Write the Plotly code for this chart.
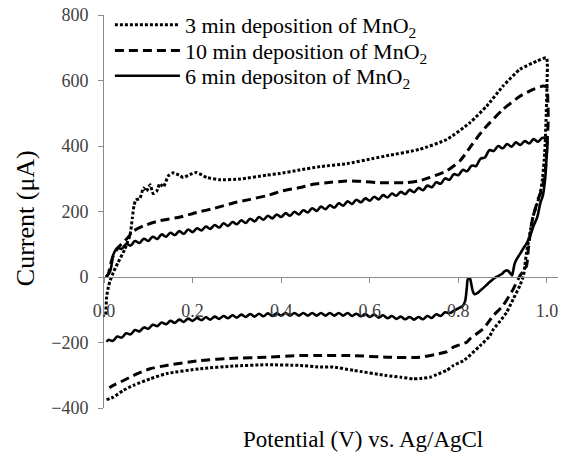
import plotly.graph_objects as go

# ---------------- data ----------------
# 3 min deposition (dotted)
dot3_x = [0.004, 0.006, 0.010, 0.014, 0.021, 0.032, 0.047, 0.059, 0.064, 0.068, 0.072, 0.081, 0.089,
          0.096, 0.104, 0.111, 0.119, 0.126, 0.134, 0.145, 0.156, 0.172, 0.179, 0.194, 0.209, 0.232,
          0.262, 0.307, 0.367, 0.397, 0.442, 0.488, 0.548, 0.608, 0.638, 0.713, 0.774, 0.826, 0.864,
          0.901, 0.939, 0.977, 0.999,
          1.000, 0.998, 0.995, 0.990, 0.984, 0.977, 0.969, 0.962, 0.954, 0.950, 0.947, 0.939, 0.924,
          0.909, 0.894, 0.879, 0.871, 0.849, 0.819, 0.811, 0.789, 0.774, 0.751, 0.736, 0.713, 0.698,
          0.670, 0.638, 0.563, 0.518, 0.488, 0.442, 0.367, 0.292, 0.217, 0.141, 0.104, 0.066, 0.044,
          0.021, 0.005]
dot3_y = [-115, -60, -30, -10, 14, 45, 85, 130, 180, 220, 235, 240, 272,
          262, 282, 255, 262, 285, 275, 308, 318, 309, 304, 313, 319, 304,
          297, 299, 311, 316, 327, 337, 346, 362, 370, 390, 420, 471, 522,
          583, 634, 659, 669,
          583, 480, 380, 300, 250, 220, 187, 136, 75, 34, 4, -26, -67,
          -108, -135, -160, -180, -210, -248, -256, -270, -285, -298, -306, -310, -311,
          -306, -301, -285, -275, -275, -270, -268, -272, -280, -295, -311, -331, -346,
          -367, -375]

# 10 min deposition (dashed)
dash10_x = [0.005, 0.010, 0.014, 0.021, 0.032, 0.051, 0.066, 0.089, 0.126, 0.172, 0.209, 0.250,
            0.292, 0.330, 0.367, 0.400, 0.442, 0.472, 0.503, 0.548, 0.580, 0.623, 0.683, 0.710,
            0.736, 0.774, 0.804, 0.826, 0.845, 0.864, 0.901, 0.939, 0.969, 0.992, 1.000,
            1.002, 1.003, 1.000, 0.996, 0.988, 0.980, 0.972, 0.965, 0.958, 0.954, 0.945, 0.939,
            0.924, 0.901, 0.879, 0.864, 0.856, 0.826, 0.819, 0.789, 0.774, 0.751, 0.713, 0.638,
            0.563, 0.488, 0.442, 0.367, 0.292, 0.217, 0.141, 0.104, 0.066, 0.044, 0.021, 0.012]
dash10_y = [0, 10, 35, 65, 90, 116, 140, 156, 172, 183, 197, 210,
            226, 237, 248, 262, 273, 283, 288, 293, 292, 288, 288, 293,
            304, 324, 355, 395, 430, 461, 512, 552, 573, 583, 580,
            540, 480, 400, 320, 265, 238, 200, 160, 85, 34, 15, 4,
            -37, -87, -118, -145, -158, -189, -199, -214, -228, -236, -245, -245,
            -240, -240, -240, -245, -248, -255, -270, -280, -301, -316, -331, -338]

# 6 min deposition (solid, wavy)
sol6_x = [0.004, 0.008, 0.014, 0.018, 0.021, 0.025,
          0.03, 0.04, 0.05, 0.06, 0.07, 0.08, 0.09, 0.10, 0.11, 0.12, 0.13, 0.14, 0.15, 0.16, 0.17,
          0.18, 0.19, 0.20, 0.21, 0.22, 0.23, 0.24, 0.25, 0.26, 0.27, 0.28, 0.29, 0.30, 0.31, 0.32,
          0.33, 0.34, 0.35, 0.36, 0.37, 0.38, 0.39, 0.40, 0.41, 0.42, 0.43, 0.44, 0.45, 0.46, 0.47,
          0.48, 0.49, 0.50, 0.51, 0.52, 0.53, 0.54, 0.55, 0.56, 0.57, 0.58, 0.59, 0.60, 0.61, 0.62,
          0.63, 0.64, 0.65, 0.66, 0.67, 0.68, 0.69, 0.70, 0.71, 0.72, 0.73, 0.74, 0.75, 0.76, 0.77,
          0.78, 0.79, 0.80, 0.81, 0.82, 0.83, 0.84, 0.85, 0.86, 0.87, 0.88, 0.89, 0.90, 0.91, 0.92,
          0.93, 0.94, 0.95, 0.96, 0.97, 0.98, 0.99, 1.00,
          1.001, 0.999, 0.996, 0.991, 0.985, 0.978, 0.970, 0.962, 0.955, 0.947, 0.939, 0.932, 0.927,
          0.924, 0.921, 0.917, 0.911, 0.905, 0.899, 0.890, 0.879, 0.870, 0.864, 0.856, 0.849, 0.842,
          0.836, 0.832, 0.829, 0.826, 0.822, 0.819, 0.815, 0.810, 0.804, 0.797, 0.790, 0.780,
          0.77, 0.76, 0.75, 0.74, 0.73, 0.72, 0.71, 0.70, 0.69, 0.68, 0.67, 0.66, 0.65, 0.64, 0.63,
          0.62, 0.61, 0.60, 0.59, 0.58, 0.57, 0.56, 0.55, 0.54, 0.53, 0.52, 0.51, 0.50, 0.49, 0.48,
          0.47, 0.46, 0.45, 0.44, 0.43, 0.42, 0.41, 0.40, 0.39, 0.38, 0.37, 0.36, 0.35, 0.34, 0.33,
          0.32, 0.31, 0.30, 0.29, 0.28, 0.27, 0.26, 0.25, 0.24, 0.23, 0.22, 0.21, 0.20, 0.19, 0.18,
          0.17, 0.16, 0.15, 0.14, 0.13, 0.12, 0.11, 0.10, 0.09, 0.08, 0.07, 0.06, 0.05, 0.04, 0.03,
          0.02, 0.01, 0.006]
sol6_y = [0, 5, 18, 45, 68, 80,
          89, 86, 101, 96, 110, 104, 117, 110, 123, 116, 130, 123, 135, 128, 140,
          132, 145, 137, 149, 142, 154, 147, 159, 151, 164, 156, 168, 161, 173, 165,
          178, 170, 183, 175, 187, 179, 191, 183, 195, 187, 199, 191, 204, 197, 210,
          202, 215, 207, 219, 212, 225, 218, 231, 223, 236, 228, 240, 233, 245, 237,
          250, 243, 255, 248, 260, 253, 266, 259, 272, 265, 279, 274, 289, 285, 301,
          297, 314, 311, 327, 323, 340, 339, 361, 365, 387, 385, 400, 393, 406, 398,
          411, 403, 415, 408, 421, 413, 425, 420,
          400, 360, 300, 250, 225, 182, 157, 125, 105, 88, 70, 55, 40,
          20, 5, 12, 20, 18, 10, 3, -6, -16, -24, -34, -42, -50,
          -52, -40, -20, -5, -5, -35, -75, -88, -93, -98, -103, -110,
          -108, -119, -114, -125, -119, -129, -122, -130, -122, -129, -121, -128, -119, -126, -117,
          -124, -115, -122, -113, -120, -112, -119, -110, -118, -110, -118, -110, -118, -110, -118,
          -110, -118, -110, -118, -110, -118, -110, -118, -111, -119, -111, -120, -112, -121, -113,
          -122, -115, -124, -117, -126, -119, -128, -121, -130, -123, -132, -125, -134, -127, -137,
          -130, -140, -134, -144, -139, -150, -146, -158, -154, -166, -162, -175, -172, -185, -182,
          -195, -192, -198]

series_names = ["3 min deposition of MnO<sub>2</sub>",
                "10 min deposition of MnO<sub>2</sub>",
                "6 min depositon of MnO<sub>2</sub>"]

x_ticks = [0.0, 0.2, 0.4, 0.6, 0.8, 1.0]
x_tick_text = ["0.0", "0.2", "0.4", "0.6", "0.8", "1.0"]
y_ticks = [-400, -200, 0, 200, 400, 600, 800]

# ---------------- figure ----------------
FONT = "Liberation Serif"
fig = go.Figure()
fig.add_trace(go.Scatter(x=dot3_x, y=dot3_y, mode="lines", name=series_names[0], legend="legend",
                         line=dict(color="black", width=3, dash="3px,2px", shape="spline", smoothing=0.5)))
fig.add_trace(go.Scatter(x=dash10_x, y=dash10_y, mode="lines", name=series_names[1], legend="legend2",
                         line=dict(color="black", width=3, dash="9px,5px", shape="spline", smoothing=0.5)))
fig.add_trace(go.Scatter(x=sol6_x, y=sol6_y, mode="lines", name=series_names[2], legend="legend3",
                         line=dict(color="black", width=2.6, shape="spline", smoothing=1.0)))

leg_common = dict(x=0.013, xanchor="left", yanchor="middle", bgcolor="rgba(0,0,0,0)",
                  itemwidth=65, font=dict(family=FONT, size=22, color="black"))

fig.update_layout(
    width=567, height=457,
    margin=dict(l=104, r=9, t=15, b=49, autoexpand=False),
    paper_bgcolor="white", plot_bgcolor="white",
    font=dict(family=FONT, color="black"),
    showlegend=True,
    legend=dict(y=0.975, **leg_common),
    legend2=dict(y=0.909, **leg_common),
    legend3=dict(y=0.845, **leg_common),
    xaxis=dict(range=[0, 1.025], tickvals=x_ticks, ticktext=x_tick_text,
               showgrid=False, zeroline=False, showline=True, linecolor="#8c8c8c", linewidth=1,
               ticks="outside", ticklen=5, tickcolor="#8c8c8c",
               anchor="free", position=1/3, ticklabelstandoff=12,
               tickfont=dict(family=FONT, size=18, color="#404040")),
    yaxis=dict(range=[-400, 800], tickvals=y_ticks,
               showgrid=False, zeroline=False, showline=True, linecolor="#8c8c8c", linewidth=1,
               ticks="outside", ticklen=5, tickcolor="#8c8c8c", ticklabelstandoff=6,
               tickfont=dict(family=FONT, size=18, color="#404040")),
    annotations=[
        dict(text="Potential (V) vs. Ag/AgCl", xref="paper", yref="paper",
             x=0.570, y=-0.081, xanchor="center", yanchor="middle", showarrow=False,
             font=dict(family=FONT, size=23, color="black")),
        dict(text="Current (μA)", xref="paper", yref="paper",
             x=-0.174, y=0.483, xanchor="center", yanchor="middle", showarrow=False,
             textangle=-90, font=dict(family=FONT, size=26, color="black")),
    ],
)

fig.write_html("out.html")
